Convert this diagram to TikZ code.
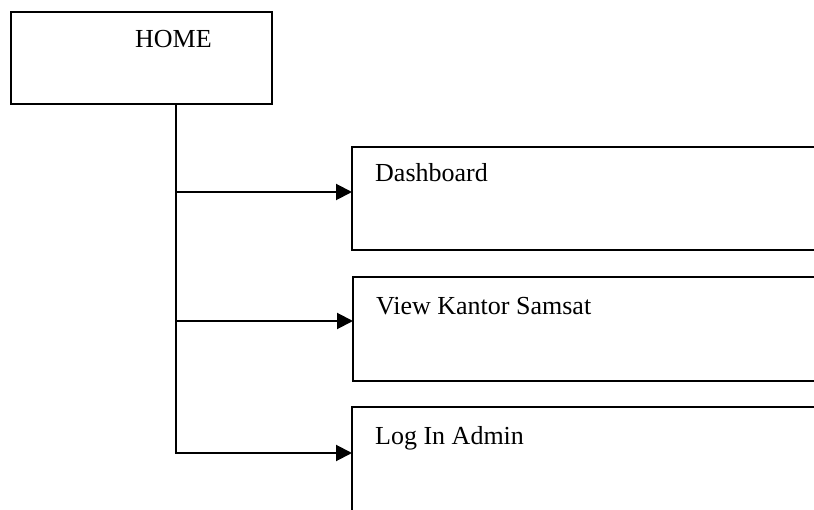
\documentclass[tikz,border=0pt]{standalone}
\usepackage{fontspec}
\setmainfont{Liberation Serif}
\usetikzlibrary{arrows.meta}
\begin{document}
\begin{tikzpicture}[x=1pt,y=-1pt,
  boxline/.style={draw=black,line width=2pt},
  trunk/.style={line width=2.2pt},
  label/.style={inner sep=0pt,anchor=base west,font=\fontsize{26}{30}\selectfont},
  branch/.style={line width=2pt,-{Triangle[length=16pt,width=16pt]}}]
\useasboundingbox[fill=white] (0,0) rectangle (814,510);
\clip (0,0) rectangle (814,510);

% root box
\draw[boxline] (11,12) rectangle (272,104);
\coordinate (homebot) at (176,104);
\node[label] (home) at (135,48) {HOME};

% menu boxes (run past the right edge)
\draw[boxline] (352,147) rectangle (840,250);
\node[label] (dash) at (375,182) {Dashboard};
\coordinate (dashin) at (352,192);

\draw[boxline] (353,277) rectangle (840,381);
\node[label] (view) at (376,315) {View Kantor Samsat};
\coordinate (viewin) at (353,321);

\draw[boxline] (352,407) rectangle (840,540);
\node[label] (login) at (375,445) {Log In Admin};
\coordinate (loginin) at (352,453);

% trunk and branches
\coordinate (j1) at (176,192);
\coordinate (j2) at (176,321);
\coordinate (j3) at (176,453);
\draw[trunk] (homebot) -- (j3);
\draw[branch] (j1) -- (dashin);
\draw[branch] (j2) -- (viewin);
\draw[branch] ([xshift=-1.1pt]j3) -- (loginin);
\end{tikzpicture}
\end{document}
